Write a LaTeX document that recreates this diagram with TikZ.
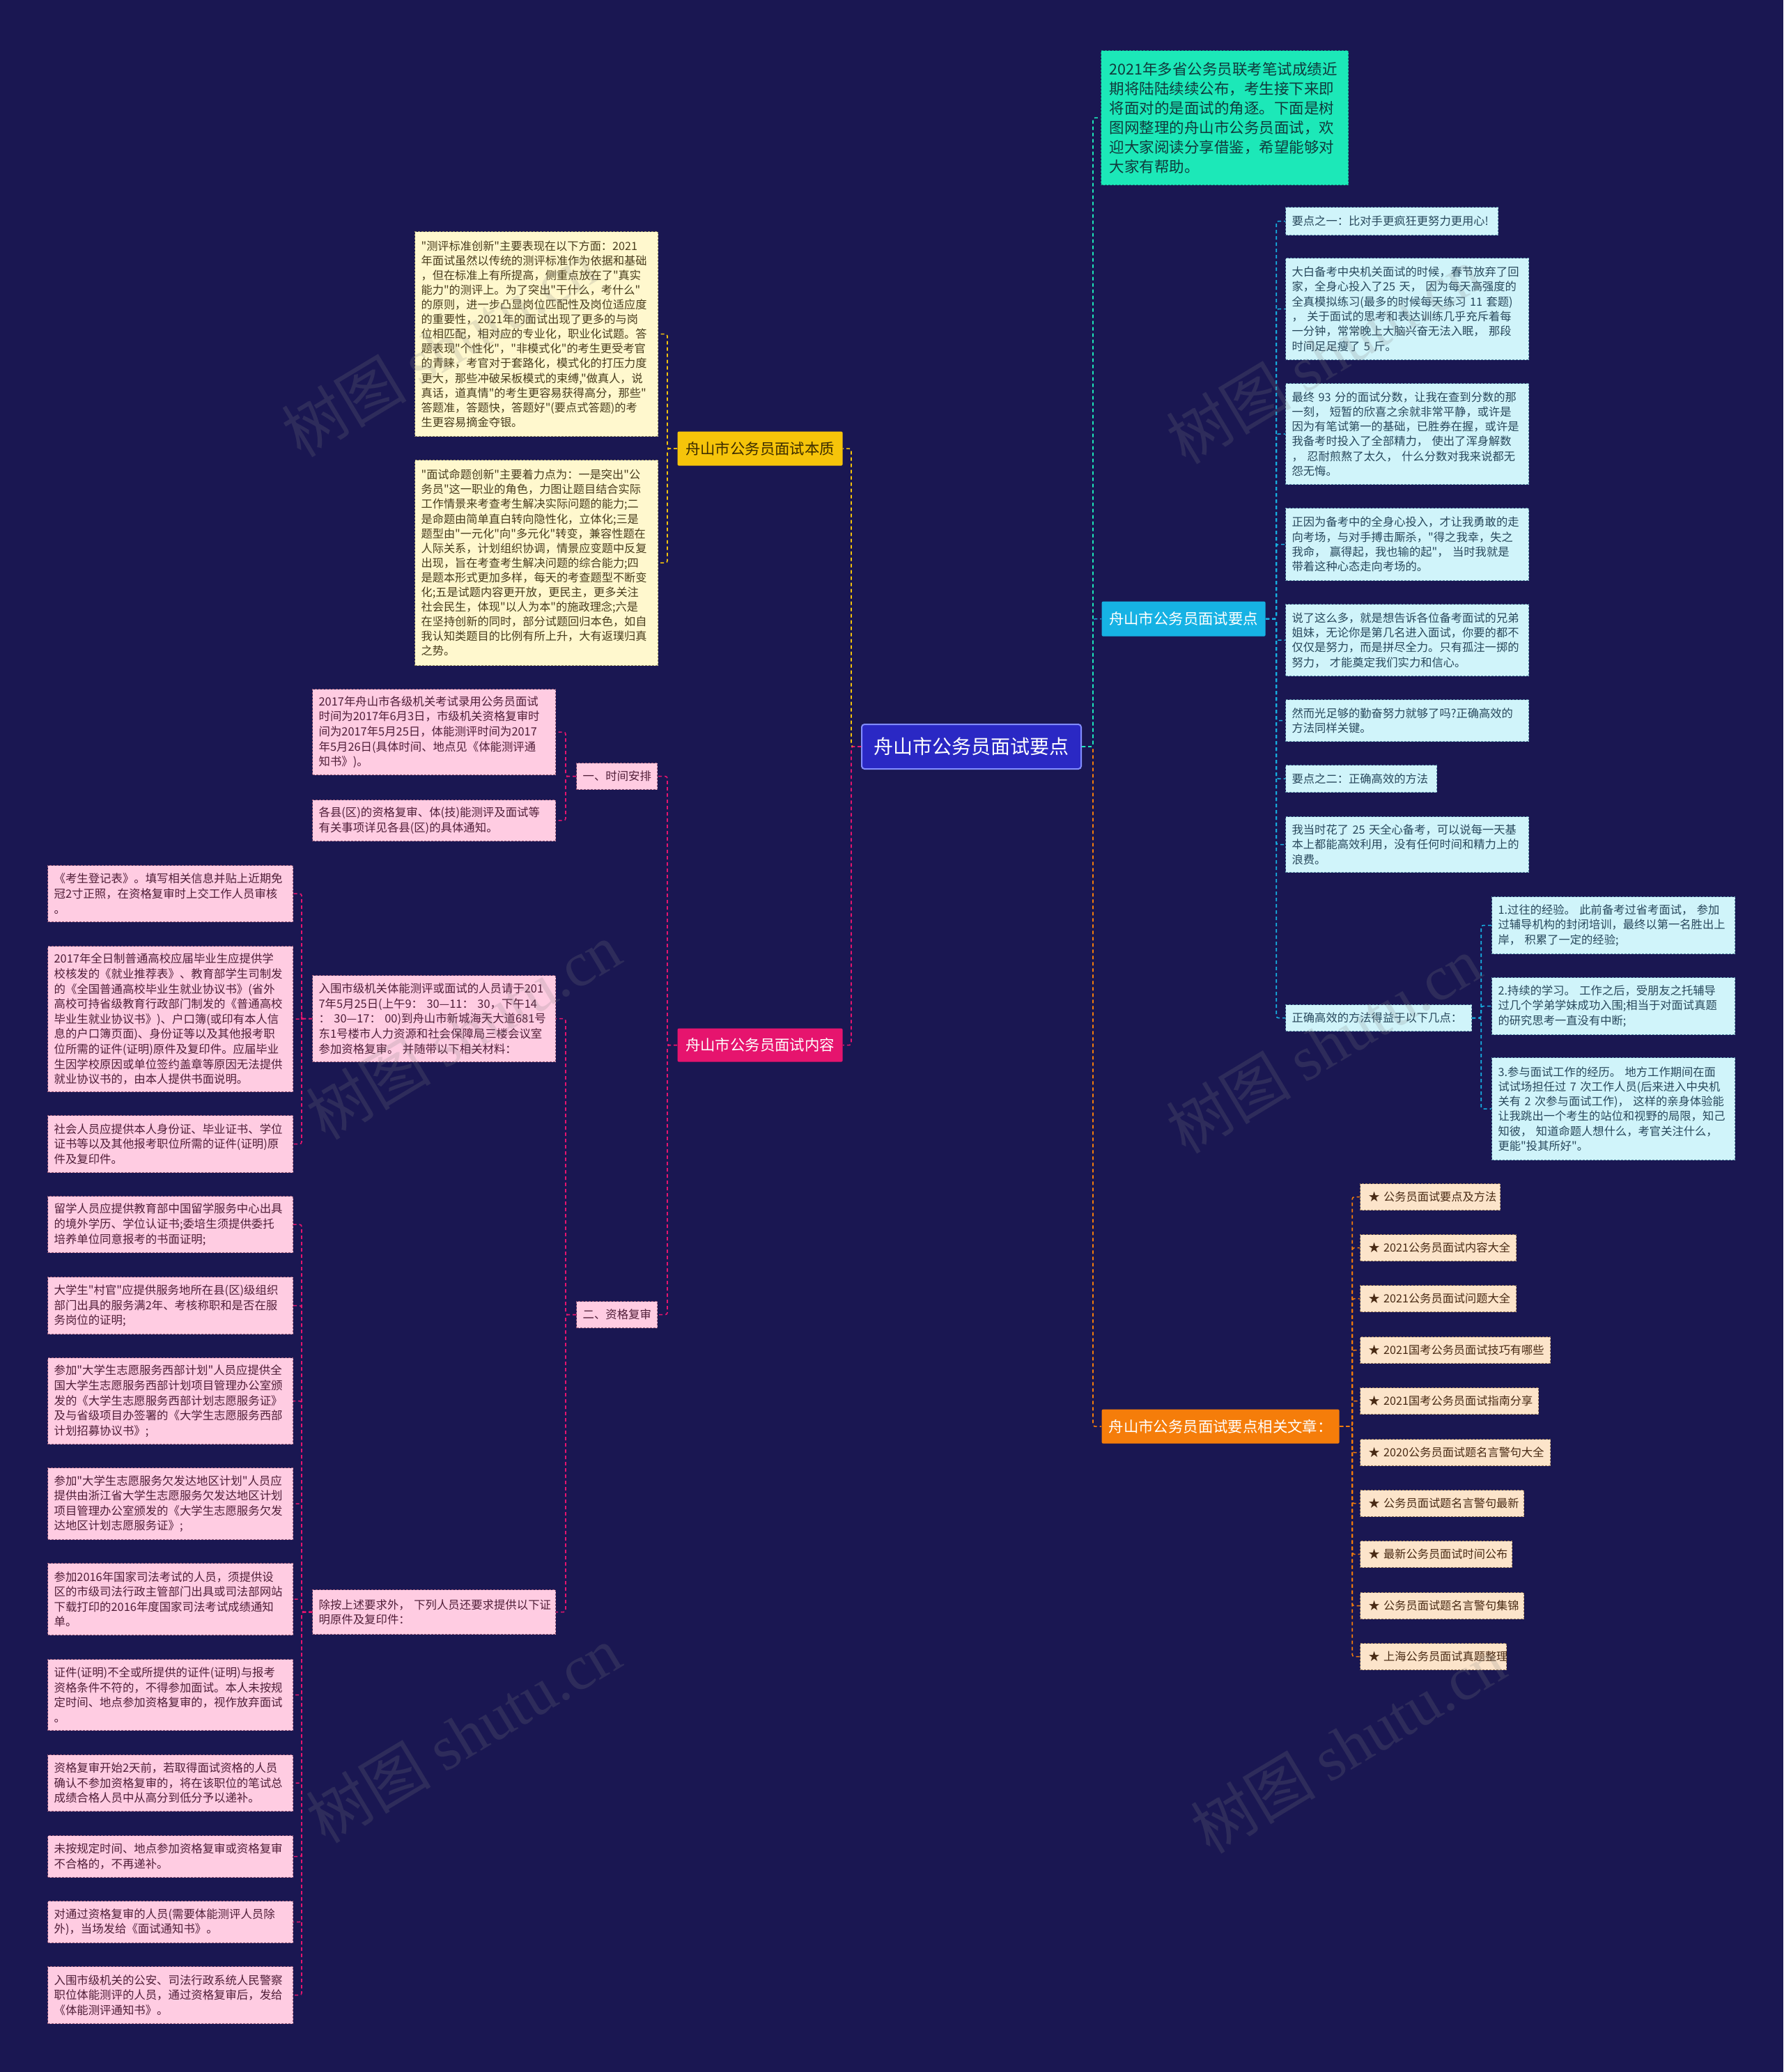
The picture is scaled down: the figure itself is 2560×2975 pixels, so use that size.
\documentclass[tikz,border=0pt]{standalone}
\usepackage{fontspec}
\setmainfont{Noto Sans CJK SC}[Ligatures=TeXOff]
\newfontfamily\wmlatin{Liberation Serif}
\definecolor{bg}{RGB}{26,23,82}
\definecolor{cfill}{RGB}{42,40,196}
\definecolor{cdraw}{RGB}{130,140,255}
\definecolor{gold}{RGB}{246,196,10}
\definecolor{goldtext}{RGB}{60,44,0}
\definecolor{mag}{RGB}{230,20,110}
\definecolor{cyanb}{RGB}{22,178,228}
\definecolor{orng}{RGB}{245,125,10}
\definecolor{teal1}{RGB}{28,232,184}
\definecolor{itext}{RGB}{16,58,60}
\definecolor{idraw}{RGB}{20,130,120}
\definecolor{yfill}{RGB}{255,248,206}
\definecolor{ydraw}{RGB}{150,140,100}
\definecolor{ytext}{RGB}{72,60,28}
\definecolor{kfill}{RGB}{208,244,250}
\definecolor{kdraw}{RGB}{90,140,165}
\definecolor{ktext}{RGB}{40,72,92}
\definecolor{pfill}{RGB}{255,204,226}
\definecolor{pdraw}{RGB}{150,90,120}
\definecolor{ptext}{RGB}{80,30,56}
\definecolor{rfill}{RGB}{252,228,202}
\definecolor{rdraw}{RGB}{150,120,90}
\definecolor{rtext}{RGB}{72,42,20}
\tikzset{
  box/.style={rectangle, anchor=north west, line width=1.2pt, dash pattern=on 3pt off 2pt, inner xsep=9pt, inner ysep=3pt, align=left},
  ybox/.style={box, fill=yfill, draw=ydraw, text=ytext, font=\fontsize{16.2}{21.1}\selectfont, text width=331pt},
  kbox/.style={box, fill=kfill, draw=kdraw, text=ktext, font=\fontsize{16.3}{21.3}\selectfont, text width=331pt},
  pbox/.style={box, fill=pfill, draw=pdraw, text=ptext, font=\fontsize{16.4}{21.6}\selectfont, text width=331pt},
  qbox/.style={box, fill=pfill, draw=pdraw, text=ptext, font=\fontsize{16.4}{21.6}\selectfont, text width=334pt},
  rbox/.style={box, fill=rfill, draw=rdraw, text=rtext, font=\fontsize{16.2}{20}\selectfont, inner xsep=12pt, minimum height=38pt},
  branch/.style={rectangle, anchor=north west, font=\fontsize{21.4}{26}\selectfont, inner sep=0pt, line width=1.2pt, rounded corners=2pt, align=center},
  link/.style={line width=1.6pt, dash pattern=on 5pt off 4pt, rounded corners=3pt},
  wm/.style={text=gray, opacity=0.2, font=\fontsize{90}{100}\selectfont, rotate=31, inner sep=0pt}
}
\begin{document}
\begin{tikzpicture}[x=1pt,y=-1pt]
\useasboundingbox (0,0) rectangle (2560,2975);
\fill[bg] (0,0) rectangle (2560,2975);

% centre
\node[rectangle, fill=cfill, draw=cdraw, line width=2pt, rounded corners=4pt, minimum width=315pt, minimum height=64pt, text=white, font=\fontsize{28}{32}\selectfont] (c) at (1394.5,1072) {舟山市公务员面试要点};

% branches
\node[branch, fill=gold, text=goldtext, minimum width=237pt, minimum height=49pt] (b1) at (972,619) {舟山市公务员面试本质};
\node[branch, fill=mag, text=white, minimum width=237pt, minimum height=48pt] (b2) at (972,1476) {舟山市公务员面试内容};
\node[branch, fill=cyanb, text=white, minimum width=235pt, minimum height=50pt] (b3) at (1581,863) {舟山市公务员面试要点};
\node[branch, fill=orng, text=white, minimum width=341pt, minimum height=49pt] (b4) at (1581,2023) {舟山市公务员面试要点相关文章：};

% intro
\node[box, fill=teal1, draw=idraw, text=itext, font=\fontsize{21.5}{28}\selectfont, text width=331pt, inner xsep=12pt, minimum height=193pt] (intro) at (1580,72) {2021年多省公务员联考笔试成绩近\\期将陆陆续续公布，考生接下来即\\将面对的是面试的角逐。下面是树\\图网整理的舟山市公务员面试，欢\\迎大家阅读分享借鉴，希望能够对\\大家有帮助。};

% yellow
\node[ybox, minimum height=294pt] (y1) at (595,332) {"测评标准创新"主要表现在以下方面：2021\\年面试虽然以传统的测评标准作为依据和基础\\，但在标准上有所提高，侧重点放在了"真实\\能力"的测评上。为了突出"干什么，考什么"\\的原则，进一步凸显岗位匹配性及岗位适应度\\的重要性，2021年的面试出现了更多的与岗\\位相匹配，相对应的专业化，职业化试题。答\\题表现"个性化"，"非模式化"的考生更受考官\\的青睐，考官对于套路化，模式化的打压力度\\更大，那些冲破呆板模式的束缚,"做真人，说\\真话，道真情"的考生更容易获得高分，那些"\\答题准，答题快，答题好"(要点式答题)的考\\生更容易摘金夺银。};
\node[ybox, minimum height=295pt] (y2) at (595,660) {"面试命题创新"主要着力点为：一是突出"公\\务员"这一职业的角色，力图让题目结合实际\\工作情景来考查考生解决实际问题的能力;二\\是命题由简单直白转向隐性化，立体化;三是\\题型由"一元化"向"多元化"转变，兼容性题在\\人际关系，计划组织协调，情景应变题中反复\\出现，旨在考查考生解决问题的综合能力;四\\是题本形式更加多样，每天的考查题型不断变\\化;五是试题内容更开放，更民主，更多关注\\社会民生，体现"以人为本"的施政理念;六是\\在坚持创新的同时，部分试题回归本色，如自\\我认知类题目的比例有所上升，大有返璞归真\\之势。};

% cyan
\node[kbox, text width=287pt, minimum height=40pt] (k1) at (1845,297) {要点之一：比对手更疯狂更努力更用心!};
\node[kbox, minimum height=146pt] (k2) at (1845,370) {大白备考中央机关面试的时候，春节放弃了回\\家，全身心投入了25~天，~因为每天高强度的\\全真模拟练习(最多的时候每天练习~11~套题)\\，~关于面试的思考和表达训练几乎充斥着每\\一分钟，常常晚上大脑兴奋无法入眠，~那段\\时间足足瘦了~5~斤。};
\node[kbox, minimum height=145pt] (k3) at (1845,550) {最终~93~分的面试分数，让我在查到分数的那\\一刻，~短暂的欣喜之余就非常平静，或许是\\因为有笔试第一的基础，已胜券在握，或许是\\我备考时投入了全部精力，~使出了浑身解数\\，~忍耐煎熬了太久，~什么分数对我来说都无\\怨无悔。};
\node[kbox, minimum height=104pt] (k4) at (1845,729) {正因为备考中的全身心投入，才让我勇敢的走\\向考场，与对手搏击厮杀，"得之我幸，失之\\我命，~赢得起，我也输的起"，~当时我就是\\带着这种心态走向考场的。};
\node[kbox, minimum height=103pt] (k5) at (1845,867) {说了这么多，就是想告诉各位备考面试的兄弟\\姐妹，无论你是第几名进入面试，你要的都不\\仅仅是努力，而是拼尽全力。只有孤注一掷的\\努力，~才能奠定我们实力和信心。};
\node[kbox, minimum height=60pt] (k6) at (1845,1004) {然而光足够的勤奋努力就够了吗?正确高效的\\方法同样关键。};
\node[kbox, text width=199pt, minimum height=39pt] (k7) at (1845,1098) {要点之二：正确高效的方法};
\node[kbox, minimum height=80pt] (k8) at (1845,1172) {我当时花了~25~天全心备考，可以说每一天基\\本上都能高效利用，没有任何时间和精力上的\\浪费。};
\node[kbox, text width=249pt, minimum height=38pt] (k9) at (1845,1442) {正确高效的方法得益于以下几点：};
\node[kbox, minimum height=82pt] (s1) at (2141,1287) {1.过往的经验。~此前备考过省考面试，~参加\\过辅导机构的封闭培训，最终以第一名胜出上\\岸，~积累了一定的经验;};
\node[kbox, minimum height=82pt] (s2) at (2141,1403) {2.持续的学习。~工作之后，受朋友之托辅导\\过几个学弟学妹成功入围;相当于对面试真题\\的研究思考一直没有中断;};
\node[kbox, minimum height=147pt] (s3) at (2141,1518) {3.参与面试工作的经历。~地方工作期间在面\\试试场担任过~7~次工作人员(后来进入中央机\\关有~2~次参与面试工作)，~这样的亲身体验能\\让我跳出一个考生的站位和视野的局限，知己\\知彼，~知道命题人想什么，考官关注什么，\\更能"投其所好"。};

% related
\node[rbox, text width=177pt] (r1) at (1952,1699) {★~公务员面试要点及方法};
\node[rbox, text width=200pt] (r2) at (1952,1772) {★~2021公务员面试内容大全};
\node[rbox, text width=200pt] (r3) at (1952,1845) {★~2021公务员面试问题大全};
\node[rbox, text width=249pt] (r4) at (1952,1919) {★~2021国考公务员面试技巧有哪些};
\node[rbox, text width=232pt] (r5) at (1952,1992) {★~2021国考公务员面试指南分享};
\node[rbox, text width=249pt] (r6) at (1952,2066) {★~2020公务员面试题名言警句大全};
\node[rbox, text width=211pt] (r7) at (1952,2139) {★~公务员面试题名言警句最新};
\node[rbox, text width=194pt] (r8) at (1952,2212) {★~最新公务员面试时间公布};
\node[rbox, text width=211pt] (r9) at (1952,2286) {★~公务员面试题名言警句集锦};
\node[rbox, text width=186pt] (r10) at (1952,2359) {★~上海公务员面试真题整理};

% pink middle
\node[pbox, text width=98pt, minimum height=38pt] (t1) at (827,1095) {一、时间安排};
\node[pbox, text width=98pt, minimum height=38pt] (t2) at (827,1868) {二、资格复审};
\node[pbox, minimum height=123pt] (p1) at (448,989) {2017年舟山市各级机关考试录用公务员面试\\时间为2017年6月3日，市级机关资格复审时\\间为2017年5月25日，体能测评时间为2017\\年5月26日(具体时间、地点见《体能测评通\\知书》)。};
\node[pbox, minimum height=59pt] (p2) at (448,1148) {各县(区)的资格复审、体(技)能测评及面试等\\有关事项详见各县(区)的具体通知。};
\node[pbox, minimum height=124pt] (p3) at (448,1400) {入围市级机关体能测评或面试的人员请于201\\7年5月25日(上午9：~30—11：~30，下午14\\：~30—17：~00)到舟山市新城海天大道681号\\东1号楼市人力资源和社会保障局三楼会议室\\参加资格复审。~并随带以下相关材料：};
\node[pbox, minimum height=64pt] (p4) at (448,2282) {除按上述要求外，~下列人员还要求提供以下证\\明原件及复印件：};

% pink left column
\node[qbox, minimum height=81pt] (q1) at (68,1242) {《考生登记表》。填写相关信息并贴上近期免\\冠2寸正照，在资格复审时上交工作人员审核\\。};
\node[qbox, minimum height=209pt] (q2) at (68,1358) {2017年全日制普通高校应届毕业生应提供学\\校核发的《就业推荐表》、教育部学生司制发\\的《全国普通高校毕业生就业协议书》(省外\\高校可持省级教育行政部门制发的《普通高校\\毕业生就业协议书》)、户口簿(或印有本人信\\息的户口簿页面)、身份证等以及其他报考职\\位所需的证件(证明)原件及复印件。应届毕业\\生因学校原因或单位签约盖章等原因无法提供\\就业协议书的，由本人提供书面说明。};
\node[qbox, minimum height=82pt] (q3) at (68,1601) {社会人员应提供本人身份证、毕业证书、学位\\证书等以及其他报考职位所需的证件(证明)原\\件及复印件。};
\node[qbox, minimum height=81pt] (q4) at (68,1717) {留学人员应提供教育部中国留学服务中心出具\\的境外学历、学位认证书;委培生须提供委托\\培养单位同意报考的书面证明;};
\node[qbox, minimum height=82pt] (q5) at (68,1833) {大学生"村官"应提供服务地所在县(区)级组织\\部门出具的服务满2年、考核称职和是否在服\\务岗位的证明;};
\node[qbox, minimum height=124pt] (q6) at (68,1949) {参加"大学生志愿服务西部计划"人员应提供全\\国大学生志愿服务西部计划项目管理办公室颁\\发的《大学生志愿服务西部计划志愿服务证》\\及与省级项目办签署的《大学生志愿服务西部\\计划招募协议书》;};
\node[qbox, minimum height=103pt] (q7) at (68,2107) {参加"大学生志愿服务欠发达地区计划"人员应\\提供由浙江省大学生志愿服务欠发达地区计划\\项目管理办公室颁发的《大学生志愿服务欠发\\达地区计划志愿服务证》;};
\node[qbox, minimum height=103pt] (q8) at (68,2244) {参加2016年国家司法考试的人员，须提供设\\区的市级司法行政主管部门出具或司法部网站\\下载打印的2016年度国家司法考试成绩通知\\单。};
\node[qbox, minimum height=102pt] (q9) at (68,2382) {证件(证明)不全或所提供的证件(证明)与报考\\资格条件不符的，不得参加面试。本人未按规\\定时间、地点参加资格复审的，视作放弃面试\\。};
\node[qbox, minimum height=81pt] (q10) at (68,2519) {资格复审开始2天前，若取得面试资格的人员\\确认不参加资格复审的，将在该职位的笔试总\\成绩合格人员中从高分到低分予以递补。};
\node[qbox, minimum height=60pt] (q11) at (68,2635) {未按规定时间、地点参加资格复审或资格复审\\不合格的，不再递补。};
\node[qbox, minimum height=60pt] (q12) at (68,2729) {对通过资格复审的人员(需要体能测评人员除\\外)，当场发给《面试通知书》。};
\node[qbox, minimum height=82pt] (q13) at (68,2823) {入围市级机关的公安、司法行政系统人民警察\\职位体能测评的人员，通过资格复审后，发给\\《体能测评通知书》。};

% connectors
\draw[link, orng] (c.east) -- ++(16,0) |- (b4.west);
\draw[link, cyanb] (c.east) -- ++(16,0) |- (b3.west);
\draw[link, teal1] (c.east) -- ++(16,0) |- (intro.west);
\draw[link, gold] (c.west) -- ++(-14,0) |- (b1.east);
\draw[link, mag] (c.west) -- ++(-14,0) |- (b2.east);
\foreach \n in {y1,y2} \draw[link, gold] (b1.west) -- ++(-14,0) |- (\n.east);
\foreach \n in {k1,k2,k3,k4,k5,k6,k7,k8,k9} \draw[link, cyanb] (b3.east) -- ++(15,0) |- (\n.west);
\foreach \n in {s1,s2,s3} \draw[link, cyanb] (k9.east) -- ++(13,0) |- (\n.west);
\foreach \n in {r1,r2,r3,r4,r5,r6,r7,r8,r9,r10} \draw[link, orng] (b4.east) -- ++(18,0) |- (\n.west);
\foreach \n in {t1,t2} \draw[link, mag] (b2.west) -- ++(-14,0) |- (\n.east);
\foreach \n in {p1,p2} \draw[link, mag] (t1.west) -- ++(-15,0) |- (\n.east);
\foreach \n in {p3,p4} \draw[link, mag] (t2.west) -- ++(-15,0) |- (\n.east);
\foreach \n in {q1,q2,q3} \draw[link, mag] (p3.west) -- ++(-15,0) |- (\n.east);
\foreach \n in {q4,q5,q6,q7,q8,q9,q10,q11,q12,q13} \draw[link, mag] (p4.west) -- ++(-15,0) |- (\n.east);

% watermarks
\node[wm] (wm1) at (630,500) {树图~{\wmlatin shutu.cn}};
\node[wm] (wm2) at (1900,510) {树图~{\wmlatin shutu.cn}};
\node[wm] (wm3) at (665,1480) {树图~{\wmlatin shutu.cn}};
\node[wm] (wm4) at (1900,1500) {树图~{\wmlatin shutu.cn}};
\node[wm] (wm5) at (665,2490) {树图~{\wmlatin shutu.cn}};
\node[wm] (wm6) at (1935,2505) {树图~{\wmlatin shutu.cn}};
\end{tikzpicture}
\end{document}
